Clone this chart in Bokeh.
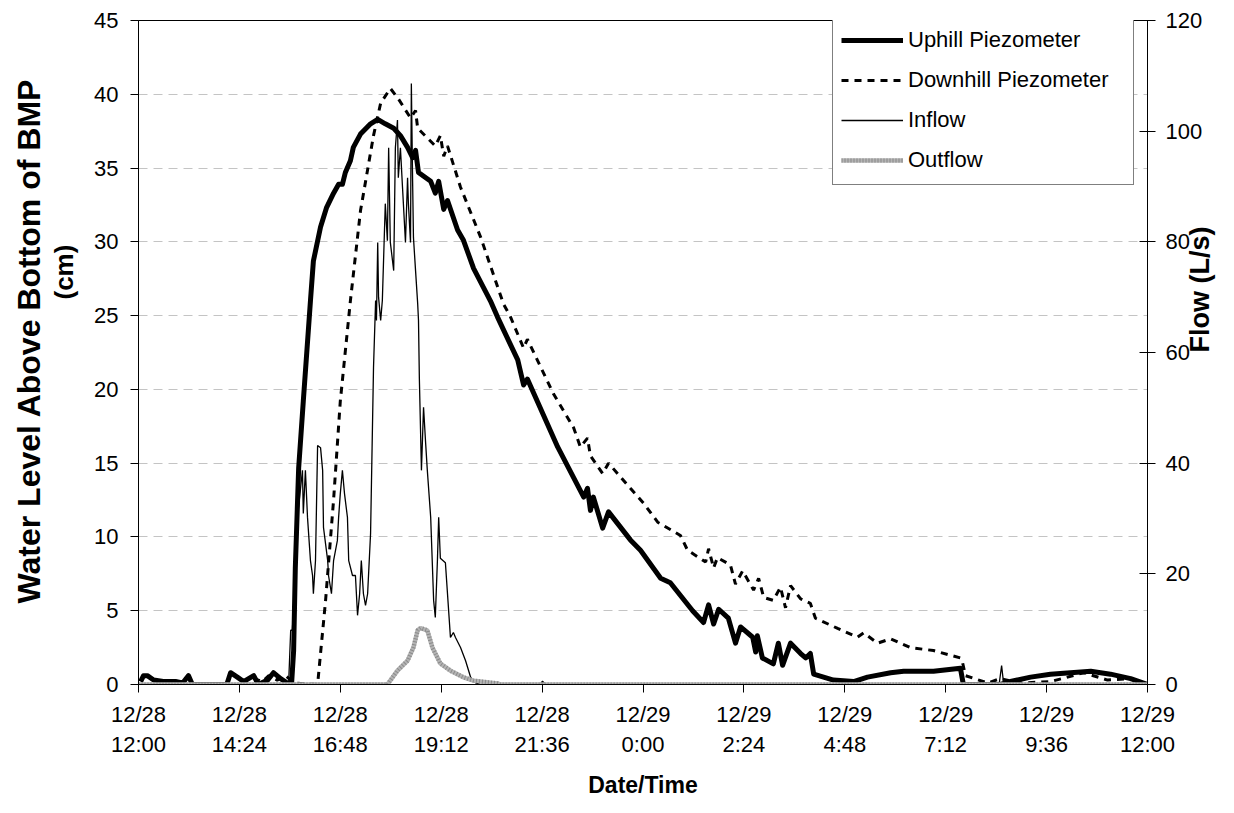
import math
from bokeh.plotting import figure
from bokeh.models import (Range1d, LinearAxis, FixedTicker, Legend, LegendItem, Title)
from bokeh.embed import file_html
from bokeh.resources import INLINE

# hours after 12/28 12:00
UP_T = [0.05, 0.12, 0.21, 0.36, 0.59, 0.88, 1.05, 1.19, 1.28, 1.71, 2.10, 2.19, 2.35, 2.50, 2.74, 2.85,
        3.07, 3.21, 3.38, 3.54, 3.64, 3.69, 3.73, 3.81, 3.92, 4.09, 4.16, 4.33, 4.47, 4.64, 4.76, 4.85,
        4.92, 5.04, 5.11, 5.28, 5.52, 5.69, 5.87, 6.07, 6.23, 6.40, 6.52, 6.59, 6.66, 6.95, 7.06, 7.14,
        7.26, 7.35, 7.59, 7.73, 7.97, 8.37, 8.54, 9.02, 9.16, 9.25, 9.97, 10.59, 10.68, 10.75, 10.82,
        11.04, 11.18, 11.70, 11.94, 12.42, 12.65, 13.18, 13.44, 13.56, 13.68, 13.80, 14.03, 14.20, 14.32,
        14.61, 14.68, 14.72, 14.84, 15.10, 15.22, 15.32, 15.51, 15.75, 15.87, 15.98, 16.06, 16.53, 17.01,
        17.34, 17.89, 18.20, 18.91, 19.55, 19.62, 20.50, 20.74, 21.22, 21.69, 22.17, 22.65, 23.12, 23.60, 24.0]
UP_V = [0.2, 0.6, 0.6, 0.3, 0.2, 0.2, 0.1, 0.6, 0.0, 0.0, 0.0, 0.8, 0.5, 0.2, 0.6, 0.0,
        0.3, 0.8, 0.4, 0.1, 0.0, 2.3, 7.9, 14.7, 19.2, 26.0, 28.7, 31.0, 32.3, 33.3, 33.9, 33.9,
        34.7, 35.5, 36.4, 37.3, 38.0, 38.3, 38.0, 37.7, 37.2, 36.4, 35.7, 36.2, 34.7, 34.1, 33.3, 34.1,
        32.2, 32.8, 30.8, 30.1, 28.2, 26.0, 24.9, 22.0, 20.3, 20.7, 16.1, 12.7, 13.3, 11.8, 12.7,
        10.6, 11.7, 9.8, 9.1, 7.2, 6.9, 5.0, 4.2, 5.4, 4.1, 5.1, 4.5, 2.8, 3.9,
        3.2, 2.2, 3.3, 1.8, 1.4, 2.8, 1.3, 2.8, 2.1, 1.8, 2.1, 0.7, 0.3, 0.2,
        0.5, 0.8, 0.9, 0.9, 1.1, 0.0, 0.0, 0.2, 0.5, 0.7, 0.8, 0.9, 0.7, 0.4, 0.0]

DOWN_T = [0.0, 2.60, 2.75, 2.95, 3.10, 3.30, 3.50, 3.70, 4.26, 4.45, 4.64, 4.80, 5.04, 5.28, 5.59, 5.76,
          5.99, 6.18, 6.47, 6.59, 6.64, 7.06, 7.18, 7.26, 7.35, 7.66, 8.14, 8.44, 8.68, 8.85, 9.16, 9.25,
          9.87, 10.35, 10.51, 10.68, 10.75, 11.04, 11.18, 11.70, 12.01, 12.35, 12.89, 13.06, 13.49, 13.56,
          13.68, 13.77, 14.08, 14.20, 14.37, 14.63, 14.75, 14.87, 15.10, 15.27, 15.39, 15.51, 15.75, 15.98,
          16.10, 16.63, 17.10, 17.25, 17.58, 17.89, 18.36, 18.91, 19.55, 19.60, 19.67, 20.20, 20.50, 20.98,
          21.69, 22.10, 22.48, 23.05, 23.60, 24.0]
DOWN_V = [0.0, 0.0, 0.4, 0.2, 0.6, 0.3, 0.6, 0.1, 0.0, 5.7, 12.5, 19.2, 26.0, 32.1, 37.2, 39.4,
          40.4, 39.7, 38.4, 38.9, 37.7, 36.5, 37.2, 35.8, 36.5, 33.7, 30.3, 27.8, 25.8, 24.9, 22.8, 23.4,
          19.7, 17.4, 16.1, 16.7, 15.5, 14.3, 15.0, 13.3, 12.3, 11.0, 10.1, 9.1, 8.3, 9.2,
          7.9, 8.6, 8.1, 6.8, 7.7, 6.4, 7.2, 5.9, 5.7, 6.6, 5.2, 6.7, 5.8, 5.5,
          4.5, 3.8, 3.2, 3.5, 2.8, 3.1, 2.5, 2.3, 1.8, 1.5, 0.6, 0.1, 0.4, 0.1,
          0.2, 0.5, 0.8, 0.3, 0.4, 0.0]

IN_T = [0.0, 3.57, 3.62, 3.66, 3.78, 3.90, 3.92, 3.97, 4.02, 4.09, 4.14, 4.16, 4.21, 4.26, 4.33, 4.38,
        4.40, 4.50, 4.52, 4.59, 4.64, 4.73, 4.76, 4.80, 4.85, 4.90, 4.97, 5.00, 5.09, 5.16, 5.21, 5.26,
        5.30, 5.35, 5.40, 5.45, 5.52, 5.59, 5.64, 5.66, 5.69, 5.71, 5.76, 5.80, 5.87, 5.92, 5.95, 5.99,
        6.07, 6.11, 6.16, 6.18, 6.23, 6.28, 6.35, 6.40, 6.42, 6.47, 6.49, 6.52, 6.54, 6.59, 6.64, 6.66,
        6.68, 6.73, 6.78, 6.83, 6.87, 6.95, 7.02, 7.06, 7.11, 7.14, 7.18, 7.30, 7.42, 7.49, 7.54, 7.66,
        7.78, 7.90, 8.02, 8.14, 9.55, 9.61, 9.68, 20.47, 20.53, 20.58, 24.0]
IN_V = [0.0, 0.0, 9.8, 9.8, 30.2, 38.7, 30.9, 38.7, 30.2, 22.4, 19.7, 16.4, 22.4, 43.2, 42.8, 38.7,
        28.4, 22.4, 19.7, 16.4, 22.4, 26.0, 30.2, 34.5, 38.7, 34.5, 30.2, 22.4, 19.7, 19.7, 12.5, 16.4,
        22.4, 16.4, 14.3, 16.4, 27.3, 57.3, 69.4, 65.8, 79.9, 70.0, 65.8, 69.4, 86.9, 80.2, 97.0, 79.9,
        74.8, 97.0, 102.0, 91.6, 97.0, 89.8, 79.9, 91.6, 86.9, 79.9, 108.6, 91.0, 80.8, 74.8, 68.9, 65.8,
        55.5, 38.7, 50.1, 43.6, 38.7, 30.2, 15.2, 12.1, 22.4, 30.2, 22.8, 22.0, 8.5, 9.4, 8.5, 6.7,
        4.3, 1.3, 0.3, 0.0, 0.0, 0.6, 0.0, 0.0, 3.4, 0.0, 0.0]

OUT_T = [0.0, 5.92, 6.16, 6.40, 6.54, 6.64, 6.71, 6.87, 6.99, 7.18, 7.42, 7.73, 7.97, 8.54, 8.61, 24.0]
OUT_V = [0.0, 0.0, 2.5, 4.3, 6.7, 9.8, 10.2, 9.8, 6.7, 3.8, 2.5, 1.3, 0.7, 0.2, 0.0, 0.0]

X_TICKS = [0.0, 2.4, 4.8, 7.2, 9.6, 12.0, 14.4, 16.8, 19.2, 21.6, 24.0]
X_LABELS = ["12/28\n12:00", "12/28\n14:24", "12/28\n16:48", "12/28\n19:12", "12/28\n21:36",
            "12/29\n0:00", "12/29\n2:24", "12/29\n4:48", "12/29\n7:12", "12/29\n9:36", "12/29\n12:00"]
LEFT_TICKS = [0, 5, 10, 15, 20, 25, 30, 35, 40, 45]
RIGHT_TICKS = [0, 20, 40, 60, 80, 100, 120]
LEFT_TITLE = ["Water Level Above Bottom of BMP", "(cm)"]
RIGHT_TITLE = "Flow (L/s)"
X_TITLE = "Date/Time"

FONT = "Liberation Sans"

p = figure(width=1234, height=813, output_backend="svg", toolbar_location=None,
           x_range=Range1d(0, 24), y_range=Range1d(0, 45),
           min_border_left=138, min_border_right=87, min_border_top=20, min_border_bottom=129)
p.extra_y_ranges = {"flow": Range1d(0, 120)}

p.outline_line_color = "black"
p.outline_line_width = 1
p.xgrid.grid_line_color = None
p.ygrid.grid_line_color = "#c4c4c4"
p.ygrid.grid_line_dash = "9 6"
p.ygrid.ticker = FixedTicker(ticks=LEFT_TICKS)

# x axis
xa = p.xaxis[0]
xa.ticker = FixedTicker(ticks=X_TICKS)
xa.major_label_overrides = {t: l for t, l in zip(X_TICKS, X_LABELS)}
xa.axis_label = X_TITLE
xa.major_tick_in = 0
xa.major_tick_out = 8
xa.minor_tick_line_color = None
xa.major_label_standoff = 9
xa.axis_label_standoff = 12

# left axis
ya = p.yaxis[0]
ya.ticker = FixedTicker(ticks=LEFT_TICKS)
ya.major_tick_in = 0
ya.major_tick_out = 8
ya.minor_tick_line_color = None
ya.major_label_standoff = 12

# right axis
ra = LinearAxis(y_range_name="flow", ticker=FixedTicker(ticks=RIGHT_TICKS), axis_label=RIGHT_TITLE)
ra.major_tick_in = 8
ra.major_tick_out = 8
ra.minor_tick_line_color = None
ra.major_label_standoff = 10
ra.axis_label_standoff = -5
try:
    ra.axis_label_orientation = math.pi / 2
except Exception:
    pass
p.add_layout(ra, "right")

for ax in (xa, ya, ra):
    ax.axis_line_color = "black"
    ax.major_tick_line_color = "black"
    ax.major_label_text_font = FONT
    ax.major_label_text_font_size = "22px"
    ax.major_label_text_color = "black"
    ax.axis_label_text_font = FONT
    ax.axis_label_text_font_size = "23px"
    ax.axis_label_text_font_style = "bold"
    ax.axis_label_text_color = "black"
ra.axis_label_text_font_size = "27px"

# blank spacer label on the left axis to leave a gap before the titles
ya.axis_label = " "
ya.axis_label_text_font_size = "2px"
ya.axis_label_standoff = 7

# left titles (closest to frame first)
for txt, off, so, fs in [(LEFT_TITLE[1], 385, 0, "26px"), (LEFT_TITLE[0], 81, 0, "32px")]:
    p.add_layout(Title(text=txt, align="left", offset=off, standoff=so,
                       text_font=FONT, text_font_size=fs, text_font_style="bold",
                       text_color="black"), "left")

r_up = p.line(UP_T, UP_V, line_color="black", line_width=5, line_join="round")
r_down = p.line(DOWN_T, DOWN_V, line_color="black", line_width=3, line_dash="7 6")
r_in = p.line(IN_T, IN_V, line_color="black", line_width=1.3, y_range_name="flow")
r_out_base = p.line(OUT_T, OUT_V, line_color="#b4b4b4", line_width=4.5, y_range_name="flow")
r_out_tex = p.line(OUT_T, OUT_V, line_color="#707070", line_width=4.5, line_dash="1 2",
                   line_alpha=0.6, y_range_name="flow")

legend = Legend(items=[
    LegendItem(label="Uphill Piezometer", renderers=[r_up]),
    LegendItem(label="Downhill Piezometer", renderers=[r_down]),
    LegendItem(label="Inflow", renderers=[r_in]),
    LegendItem(label="Outflow", renderers=[r_out_base, r_out_tex]),
], location=(694, 499))
legend.label_text_font = FONT
legend.label_text_font_size = "22px"
legend.label_text_color = "black"
legend.glyph_width = 62
legend.glyph_height = 32
legend.spacing = 8
legend.padding = 8
legend.margin = 0
legend.label_standoff = 5
legend.label_width = 217
legend.border_line_color = "black"
legend.border_line_width = 1
legend.background_fill_color = "white"
legend.background_fill_alpha = 1
p.add_layout(legend)

open("out.html", "w").write(file_html(p, INLINE))
